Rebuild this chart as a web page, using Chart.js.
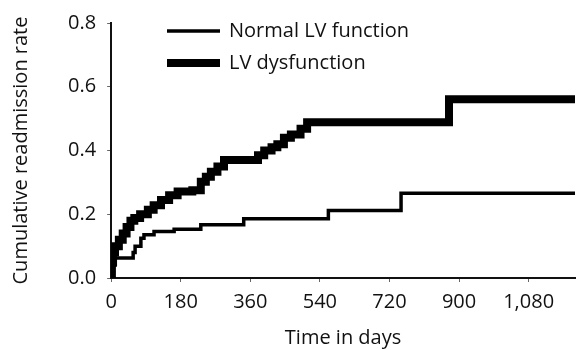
<!DOCTYPE html>
<html>
<head>
<meta charset="utf-8">
<script src="https://cdn.jsdelivr.net/npm/chart.js@4/dist/chart.umd.min.js"></script>
<style>
  html, body { margin: 0; padding: 0; background: #ffffff; }
  #wrap { width: 577px; height: 350px; }
</style>
</head>
<body>
<div id="wrap"><canvas id="c" width="577" height="350"></canvas></div>
<script>
// ---- data ----
const seriesLabels = ["Normal LV function", "LV dysfunction"];

const normalDays  = [0, 3, 6, 10, 57, 62, 77, 85, 111, 163, 232, 343, 562, 750, 1200];
const normalRate  = [0, 0.02, 0.04, 0.063, 0.08, 0.10, 0.125, 0.136, 0.146, 0.153, 0.167, 0.186, 0.212, 0.266, 0.266];

const dysDays = [0, 2, 5, 10, 20, 30, 40, 50, 60, 75, 95, 110, 129, 150, 172, 210, 232, 245, 258, 275, 292, 380, 396, 415, 430, 447, 465, 490, 507, 874, 1200];
const dysRate = [0, 0.05, 0.08, 0.10, 0.12, 0.14, 0.16, 0.18, 0.188, 0.20, 0.214, 0.228, 0.245, 0.26, 0.271, 0.275, 0.302, 0.318, 0.333, 0.35, 0.37, 0.385, 0.40, 0.41, 0.42, 0.44, 0.45, 0.468, 0.489, 0.561, 0.561];

const xTickStep = 180;
const yTickStep = 0.2;
const xTitle = "Time in days";
const yTitle = "Cumulative readmission rate";

const toPoints = (xs, ys) => xs.map((x, i) => ({ x: x, y: ys[i] }));

const FONT = "'Open Sans', 'Liberation Sans', Arial, sans-serif";

const legendPlugin = {
  id: 'kmLegend',
  afterDatasetsDraw(chart) {
    const ctx = chart.ctx;
    const rows = [31, 63];
    ctx.save();
    chart.data.datasets.forEach((ds, i) => {
      const y = rows[i];
      ctx.beginPath();
      ctx.lineWidth = ds.borderWidth;
      ctx.strokeStyle = ds.borderColor;
      ctx.lineCap = 'butt';
      ctx.moveTo(167, y);
      ctx.lineTo(220, y);
      ctx.stroke();
      ctx.fillStyle = '#111111';
      ctx.font = "20px " + FONT;
      ctx.textBaseline = 'middle';
      ctx.textAlign = 'left';
      ctx.fillText(ds.label, 229, y);
    });
    ctx.restore();
  }
};

new Chart(document.getElementById('c'), {
  type: 'line',
  data: {
    datasets: [
      {
        label: seriesLabels[0],
        data: toPoints(normalDays, normalRate),
        borderColor: '#000000',
        borderWidth: 3.5,
        stepped: 'before',
        pointRadius: 0,
        fill: false,
        borderJoinStyle: 'miter'
      },
      {
        label: seriesLabels[1],
        data: toPoints(dysDays, dysRate),
        borderColor: '#000000',
        borderWidth: 8,
        stepped: 'before',
        pointRadius: 0,
        fill: false,
        borderJoinStyle: 'miter'
      }
    ]
  },
  options: {
    responsive: false,
    animation: false,
    devicePixelRatio: 1,
    layout: { padding: { left: 9, top: 20, right: 2, bottom: 0 } },
    plugins: {
      legend: { display: false },
      tooltip: { enabled: false }
    },
    scales: {
      x: {
        type: 'linear',
        min: 0,
        max: 1200,
        border: { display: true, color: '#111111', width: 2 },
        grid: { drawOnChartArea: false, drawTicks: true, tickLength: 4, color: '#666666', tickWidth: 1 },
        ticks: {
          stepSize: xTickStep,
          includeBounds: false,
          padding: 8,
          color: '#111111',
          font: { family: FONT, size: 20 }
        },
        title: {
          display: true,
          text: xTitle,
          color: '#111111',
          font: { family: FONT, size: 20 },
          padding: { top: 4, bottom: 0 }
        }
      },
      y: {
        type: 'linear',
        min: 0,
        max: 0.8,
        border: { display: true, color: '#111111', width: 2 },
        grid: { drawOnChartArea: false, drawTicks: true, tickLength: 4, color: '#666666', tickWidth: 1 },
        ticks: {
          stepSize: yTickStep,
          padding: 11,
          color: '#111111',
          font: { family: FONT, size: 20 },
          callback: (v) => Number(v).toFixed(1)
        },
        title: {
          display: true,
          text: yTitle,
          color: '#111111',
          font: { family: FONT, size: 20 },
          padding: { top: 0, bottom: 24 }
        }
      }
    }
  },
  plugins: [legendPlugin]
});
</script>
</body>
</html>
